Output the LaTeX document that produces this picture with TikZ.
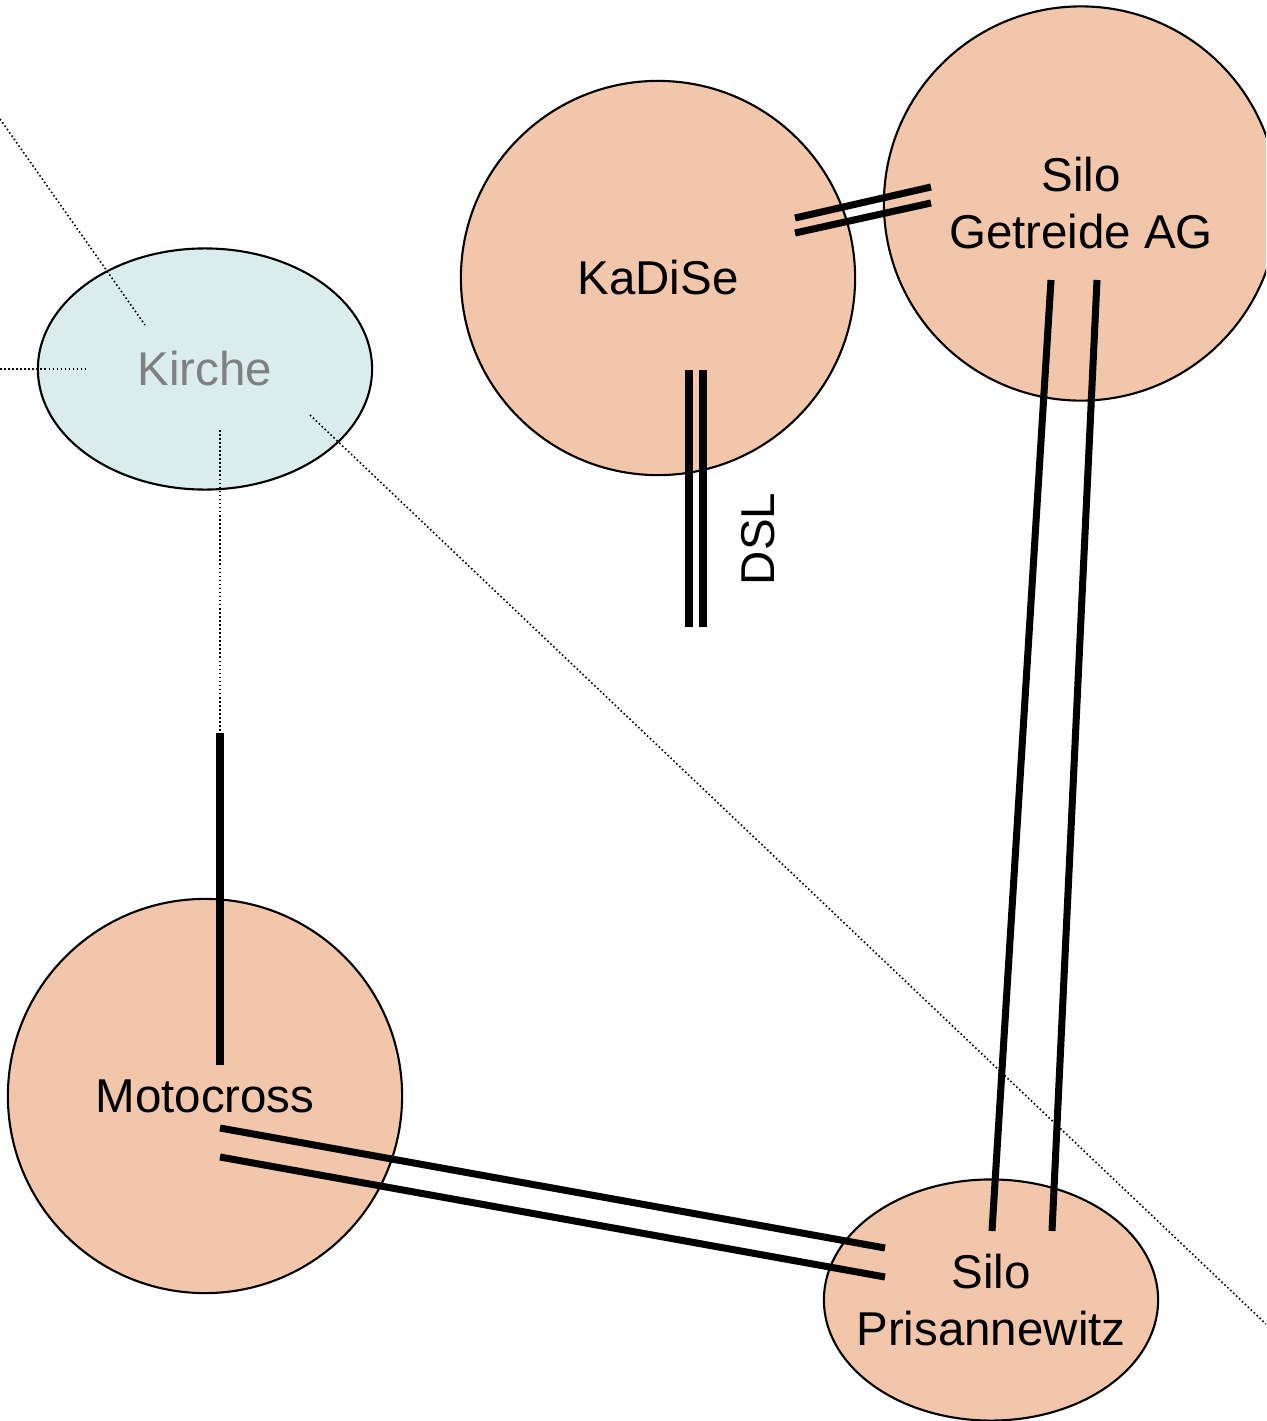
\documentclass[tikz,border=0pt]{standalone}
\usepackage{fontspec}
\setmainfont{Liberation Sans}
\usetikzlibrary{shapes.geometric}
\definecolor{peach}{RGB}{242,198,170}
\definecolor{paleblue}{RGB}{218,236,236}
\definecolor{kirchegray}{RGB}{128,128,128}
\begin{document}
\begin{tikzpicture}[x=0.01cm,y=-0.01cm,
  lbl/.style={font=\fontsize{13.5}{16.2}\selectfont,align=center},
  blob/.style={circle,draw=black,line width=0.6pt,fill=peach,minimum size=3.94cm,inner sep=0pt,lbl},
  oval/.style={ellipse,draw=black,line width=0.6pt,inner sep=0pt,minimum width=3.34cm,minimum height=2.41cm,lbl},
  cable/.style={line width=2pt},
  link/.style={line width=0.45pt,dash pattern=on 0.45pt off 0.7pt}]
\useasboundingbox (0,0) rectangle (1266,1421);
\clip (0,0) rectangle (1266,1421);
% nodes
\node[blob] (kadise) at (658,278) {KaDiSe};
\node[blob] (silo) at (1081,203.5) {Silo\\Getreide AG};
\node[blob] (moto) at (205,1096) {Motocross};
\node[oval,fill=peach] (pris) at (991,1300) {};
\node[lbl] (pristext) at (pris.center) {Silo\\Prisannewitz};
\node[oval,fill=paleblue,text=kirchegray] (kirche) at (205,369) {Kirche};
\node[lbl,rotate=90] (dsl) at (758,539) {DSL};
% coordinates for cable ends
\coordinate (k1a) at (795,218); \coordinate (k1b) at (931,187);
\coordinate (k2a) at (795,233); \coordinate (k2b) at (931,203);
\coordinate (d1a) at (689,370); \coordinate (d1b) at (689,627);
\coordinate (d2a) at (703,370); \coordinate (d2b) at (703,627);
\coordinate (s1a) at (1051,280); \coordinate (s1b) at (992,1231);
\coordinate (s2a) at (1097,280); \coordinate (s2b) at (1052,1231);
\coordinate (m1a) at (220,1128); \coordinate (m1b) at (885,1248);
\coordinate (m2a) at (220,1157); \coordinate (m2b) at (885,1277);
\coordinate (mv1) at (220,733); \coordinate (mv2) at (220,1065);
% dotted link coordinates
\coordinate (l1a) at (0,119); \coordinate (l1b) at (145,325);
\coordinate (l2a) at (0,369); \coordinate (l2b) at (85,369);
\coordinate (l3a) at (220,430);
\coordinate (l4a) at (310,415); \coordinate (l4b) at (1266,1324);
% dotted links
\draw[link] (l1a) -- (l1b);
\draw[link] (l2a) -- (l2b);
\draw[link] (l3a) -- (mv1);
\draw[link] (l4a) -- (l4b);
% cables
\draw[cable] (k1a) -- (k1b);
\draw[cable] (k2a) -- (k2b);
\draw[cable] (d1a) -- (d1b);
\draw[cable] (d2a) -- (d2b);
\draw[cable] (s1a) -- (s1b);
\draw[cable] (s2a) -- (s2b);
\draw[cable] (m1a) -- (m1b);
\draw[cable] (m2a) -- (m2b);
\draw[cable] (mv1) -- (mv2);
\end{tikzpicture}
\end{document}
